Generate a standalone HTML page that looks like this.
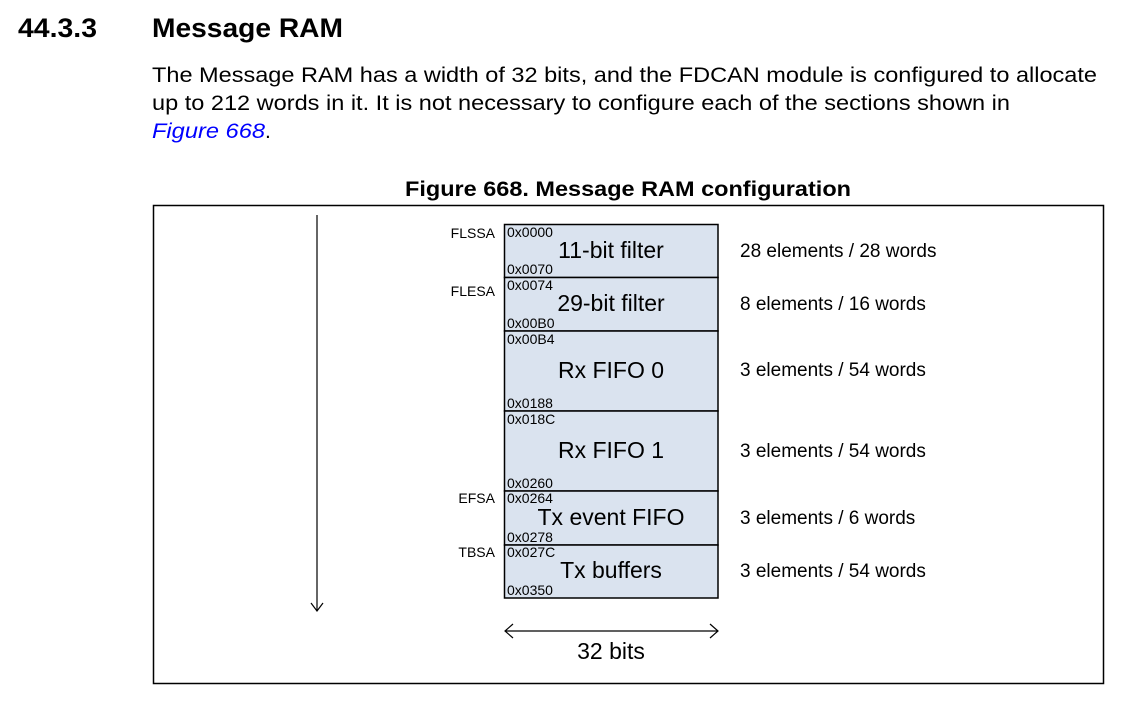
<!DOCTYPE html>
<html><head><meta charset="utf-8"><style>
body{margin:0;background:#fff;width:1134px;height:702px;overflow:hidden}
svg{display:block}
text{font-family:"Liberation Sans",Arial,sans-serif;fill:#000}
</style></head><body>
<svg width="1134" height="702" viewBox="0 0 1134 702">
<text x="18" y="37" font-size="27" font-weight="bold" textLength="79" lengthAdjust="spacingAndGlyphs">44.3.3</text>
<text x="152" y="37" font-size="27" font-weight="bold" textLength="191" lengthAdjust="spacingAndGlyphs">Message RAM</text>
<text x="152" y="82" font-size="21" textLength="945" lengthAdjust="spacingAndGlyphs">The Message RAM has a width of 32 bits, and the FDCAN module is configured to allocate</text>
<text x="152" y="110" font-size="21" textLength="858" lengthAdjust="spacingAndGlyphs">up to 212 words in it. It is not necessary to configure each of the sections shown in</text>
<text x="152" y="138" font-size="21" font-style="italic" style="fill:#0000ff" textLength="113" lengthAdjust="spacingAndGlyphs">Figure 668</text>
<text x="265" y="138" font-size="21">.</text>
<text x="405" y="196" font-size="21" font-weight="bold" textLength="446" lengthAdjust="spacingAndGlyphs">Figure 668. Message RAM configuration</text>
<rect x="153.5" y="205.5" width="950" height="478" fill="none" stroke="#000" stroke-width="1.5"/>
<line x1="317" y1="215" x2="317" y2="611" stroke="#000" stroke-width="1.2"/>
<polyline points="311,603 317,611 323,603" fill="none" stroke="#000" stroke-width="1.2"/>
<g stroke="#000" stroke-width="1.5" fill="#dae3ef">
<rect x="504.5" y="224.5" width="213.5" height="53"/>
<rect x="504.5" y="277.5" width="213.5" height="53.5"/>
<rect x="504.5" y="331" width="213.5" height="80"/>
<rect x="504.5" y="411" width="213.5" height="80"/>
<rect x="504.5" y="491" width="213.5" height="54"/>
<rect x="504.5" y="545" width="213.5" height="53"/>
</g>
<g font-size="14">
<text x="507" y="237">0x0000</text><text x="507" y="274">0x0070</text>
<text x="507" y="290">0x0074</text><text x="507" y="328">0x00B0</text>
<text x="507" y="344">0x00B4</text><text x="507" y="408">0x0188</text>
<text x="507" y="424">0x018C</text><text x="507" y="488">0x0260</text>
<text x="507" y="503">0x0264</text><text x="507" y="542">0x0278</text>
<text x="507" y="557">0x027C</text><text x="507" y="595">0x0350</text>
</g>
<g font-size="14" text-anchor="end">
<text x="495" y="238">FLSSA</text><text x="495" y="296">FLESA</text>
<text x="495" y="503">EFSA</text><text x="495" y="557">TBSA</text>
</g>
<g font-size="23" text-anchor="middle">
<text x="611" y="258">11-bit filter</text>
<text x="611" y="311">29-bit filter</text>
<text x="611" y="378">Rx FIFO 0</text>
<text x="611" y="458">Rx FIFO 1</text>
<text x="611" y="525">Tx event FIFO</text>
<text x="611" y="578">Tx buffers</text>
</g>
<g font-size="19">
<text x="740" y="257">28 elements / 28 words</text>
<text x="740" y="310">8 elements / 16 words</text>
<text x="740" y="376">3 elements / 54 words</text>
<text x="740" y="457">3 elements / 54 words</text>
<text x="740" y="524">3 elements / 6 words</text>
<text x="740" y="577">3 elements / 54 words</text>
</g>
<line x1="505" y1="631" x2="718" y2="631" stroke="#000" stroke-width="1.2"/>
<polyline points="513,624 505,631 513,638" fill="none" stroke="#000" stroke-width="1.2"/>
<polyline points="710,624 718,631 710,638" fill="none" stroke="#000" stroke-width="1.2"/>
<text x="611" y="659" font-size="23" text-anchor="middle">32 bits</text>
</svg>
</body></html>
